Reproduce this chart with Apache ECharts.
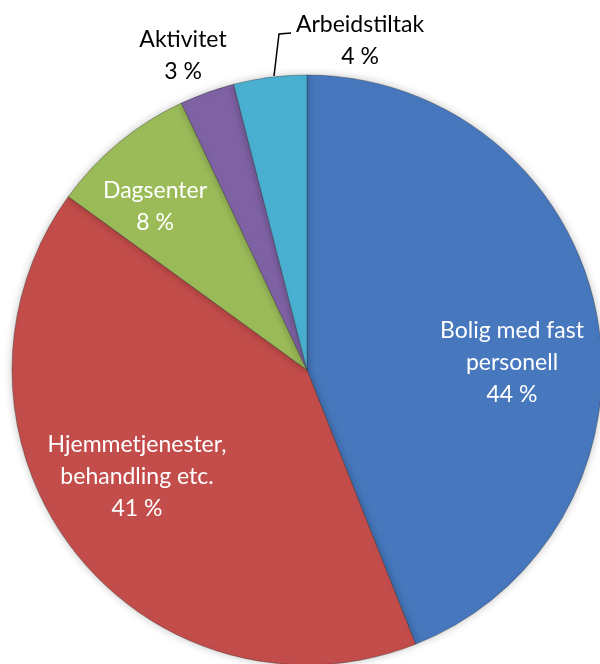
<!DOCTYPE html>
<html><head><meta charset="utf-8">
<script src="https://cdn.jsdelivr.net/npm/echarts@6/dist/echarts.min.js"></script>
<style>html,body{margin:0;padding:0;background:#fff}#c{width:600px;height:664px}</style>
</head><body><div id="c"></div>
<script>
const categories = ["Bolig med fast\npersonell", "Hjemmetjenester,\nbehandling etc.", "Dagsenter", "Aktivitet", "Arbeidstiltak"];
const values = [44, 41, 8, 3, 4];
const colors = ["#4778bd", "#c24d4a", "#9bbb59", "#7f62a3", "#49b0d1"];
const labelColors = ["#fff", "#fff", "#fff", "#000", "#000"];
// label anchor positions (layout only)
const labelPos = [[512, 363], [137, 477], [155, 207], [183, 56], [360, 41]];

const chart = echarts.init(document.getElementById('c'), null, {renderer: 'canvas'});
const data = categories.map((c, i) => ({
  name: c,
  value: values[i],
  itemStyle: {color: colors[i]},
  label: {color: labelColors[i]},
  labelLine: {show: i === 4}
}));
chart.setOption({
  animation: false,
  series: [{
    type: 'pie',
    center: [307, 370],
    radius: [0, 295],
    startAngle: 90,
    clockwise: true,
    data: data,
    itemStyle: {borderColor: 'rgba(40,40,40,0.35)', borderWidth: 1, shadowBlur: 8, shadowColor: 'rgba(0,0,0,0.25)'},
    label: {
      show: true,
      position: 'outside',
      formatter: p => p.name + '\n' + p.value + ' %',
      fontFamily: 'Lato',
      fontSize: 23,
      lineHeight: 32,
      align: 'center',
      overflow: 'none',
      width: 300
    },
    labelLine: {lineStyle: {color: '#000', width: 1.5}},
    labelLayout: function (p) {
      const pos = labelPos[p.dataIndex];
      const r = {x: pos[0], y: pos[1], align: 'center', verticalAlign: 'middle', hideOverlap: false, moveOverlap: null};
      if (p.dataIndex === 4) r.labelLinePoints = [[274, 76], [279, 34], [291, 33]];
      return r;
    }
  }]
});
</script></body></html>
